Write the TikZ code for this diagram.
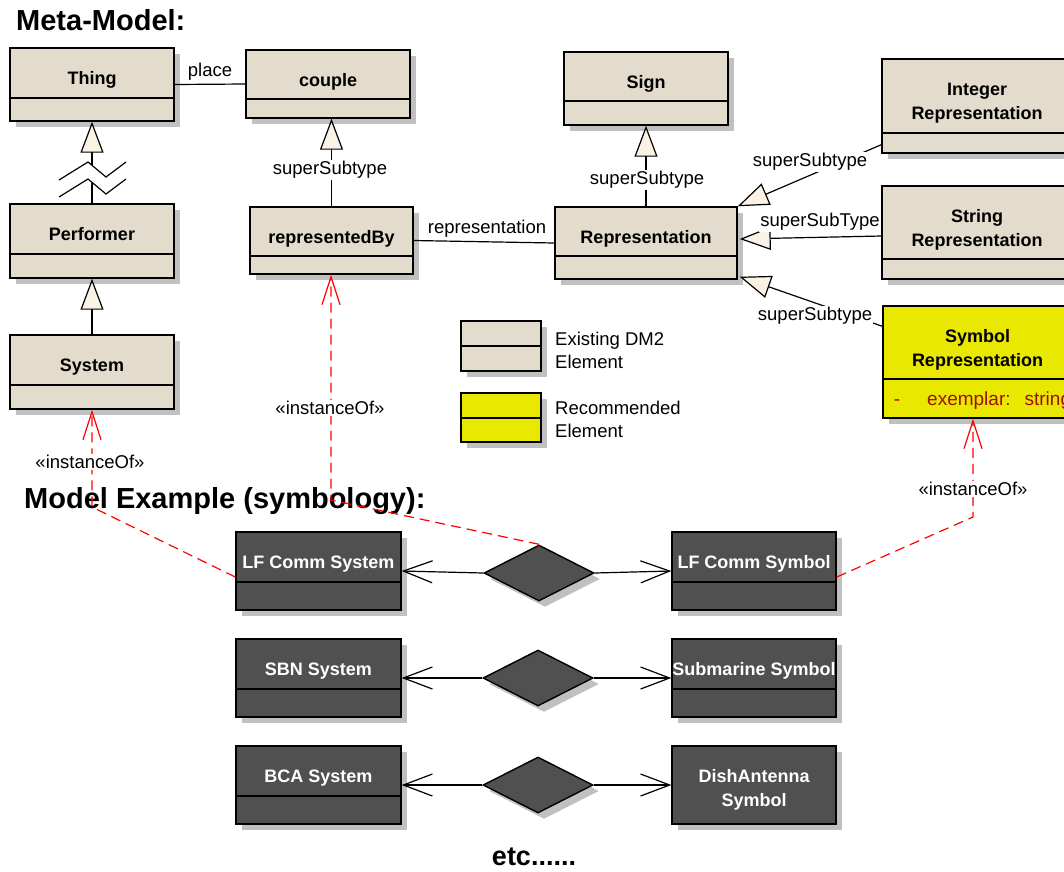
\documentclass[tikz,border=0pt]{standalone}
\usepackage{fontspec}
\setmainfont{Liberation Sans}
\usetikzlibrary{arrows.meta,shapes.geometric,shadows}

\definecolor{tanfill}{RGB}{227,219,203}
\definecolor{yelfill}{RGB}{232,232,0}
\definecolor{darkfill}{RGB}{80,80,80}
\definecolor{shadowc}{RGB}{192,192,192}
\definecolor{trifill}{RGB}{250,242,228}
\definecolor{attrred}{RGB}{160,16,0}

% strut so every class name has the same height and depth
\newcommand\tstrut{\vphantom{Ag}}

% class box: name, style, left, top, right, bottom, divider y, title
\newcommand\umlbox[8]{%
  \node[#2, minimum width={#5-#3}, minimum height={#6-#4}] (#1) at ({(#3+#5)/2},{(#4+#6)/2}) {};
  \draw[divider] (#3,#7) -- (#5,#7);
  \node[#2 txt] (#1-t) at ({(#3+#5)/2},{(#4+#7)/2+7}) {#8};
}

\tikzset{
  umlshape/.style={draw, line width=1.4pt, inner sep=0pt,
    general shadow={fill=shadowc, shadow xshift=6pt, shadow yshift=-6pt}},
  tanbox/.style={umlshape, fill=tanfill},
  yelbox/.style={umlshape, fill=yelfill},
  darkbox/.style={umlshape, fill=darkfill},
  nametxt/.style={font=\fontsize{18}{24}\selectfont\bfseries, align=center, inner sep=0pt,
    execute at begin node=\tstrut, execute at end node=\tstrut},
  tanbox txt/.style={nametxt},
  yelbox txt/.style={nametxt},
  darkbox txt/.style={nametxt, text=white},
  divider/.style={line width=1.4pt},
  assocd/.style={diamond, umlshape, fill=darkfill, minimum width=110, minimum height=56},
  lbl/.style={font=\fontsize{18.5}{24}\selectfont, inner sep=1pt, fill=white},
  plainline/.style={line width=1.2pt},
  gen/.style={plainline, -{Triangle[length=31pt, width=23pt, fill=trifill]}},
  assoc/.style={plainline, -{Straight Barb[length=29pt, width=22pt]}},
  instof/.style={plainline, red, dash pattern=on 10pt off 6pt, -{Straight Barb[length=28pt, width=18pt]}},
  heading/.style={font=\fontsize{29}{32}\selectfont\bfseries, inner sep=0pt},
}

\begin{document}
\begin{tikzpicture}[x=1pt, y=-1pt]
\useasboundingbox (0,0) rectangle (1064,871);
\clip (0,0) rectangle (1064,871);

% headings
\node[heading, anchor=base west] (hmeta) at (16,30) {Meta-Model:};
\node[heading, anchor=base west] (hmodel) at (24,508) {Model Example (symbology):};
\node[font=\fontsize{27}{30}\selectfont\bfseries, inner sep=0pt, anchor=base] (etc) at (534,865) {etc......};

% meta-model classes
\umlbox{thing}{tanbox}{10}{48}{174}{121}{98}{Thing}
\umlbox{couple}{tanbox}{246}{50}{410}{118}{99}{couple}
\umlbox{performer}{tanbox}{10}{204}{174}{278}{254}{Performer}
\umlbox{system}{tanbox}{10}{335}{174}{409}{385}{System}
\umlbox{repby}{tanbox}{250}{207}{413}{274}{256}{representedBy}
\umlbox{sign}{tanbox}{564}{52}{728}{125}{101}{Sign}
\umlbox{rep}{tanbox}{555}{207}{737}{279}{256}{Representation}
\umlbox{intrep}{tanbox}{882}{59}{1072}{153}{133}{Integer\\Representation}
\umlbox{strrep}{tanbox}{882}{186}{1072}{279}{259}{String\\Representation}
\umlbox{symrep}{yelbox}{883}{306}{1072}{418}{379}{Symbol\\Representation}
\node[font=\fontsize{19}{24}\selectfont, text=attrred, inner sep=0pt, anchor=base] (attrdash) at (897,405) {-};
\node[font=\fontsize{19}{24}\selectfont, text=attrred, inner sep=0pt, anchor=base west] (attr) at (927,405) {exemplar:\hspace{14pt}string};

% legend
\umlbox{legtan}{tanbox}{461}{321}{541}{371}{346}{}
\umlbox{legyel}{yelbox}{461}{393}{541}{442}{418}{}
\node[font=\fontsize{18.5}{23}\selectfont, align=left, inner sep=0pt, anchor=north west] (legtxta) at (555,332) {Existing DM2\\Element};
\node[font=\fontsize{18.5}{23}\selectfont, align=left, inner sep=0pt, anchor=north west] (legtxtb) at (555,401) {Recommended\\Element};

% model example classes
\umlbox{lfsys}{darkbox}{236}{532}{401}{610}{582}{LF Comm System}
\umlbox{lfsym}{darkbox}{672}{532}{836}{610}{582}{LF Comm Symbol}
\umlbox{sbnsys}{darkbox}{236}{639}{401}{717}{689}{SBN System}
\umlbox{subsym}{darkbox}{672}{639}{836}{717}{689}{Submarine Symbol}
\umlbox{bcasys}{darkbox}{236}{746}{401}{824}{796}{BCA System}
\node[darkbox, minimum width=164, minimum height=78] (dishsym) at (754,785) {};
\node[darkbox txt] (dishsym-t) at (754,790) {DishAntenna\\Symbol};

% association instances
\node[assocd] (d1) at (539,573) {};
\node[assocd] (d2) at (538,678) {};
\node[assocd] (d3) at (538,785) {};

% generalizations
\coordinate (zzhigh) at (92,165);
\coordinate (zzlow) at (92,183);
\draw[gen] (zzhigh) -- (thing.south);
\draw[plainline] (performer.north) -- (zzlow);
\draw[plainline] (59,180) -- (88,162) -- (106,177) -- (126,162);
\draw[plainline] (59,197) -- (88,179) -- (106,194) -- (126,179);
\draw[gen] (system.north) -- (performer.south);
\draw[gen] (repby.north) -- (repby.north |- couple.south);
\draw[gen] (rep.north) -- (sign.south);
\draw[gen] ([yshift=9pt]intrep.south west) -- (rep.north east);
\draw[gen] ([yshift=-3.5pt]strrep.west) -- ([xshift=2pt,yshift=4pt]rep.east);
\draw[gen] ([yshift=-21pt]symrep.north west) -- ([xshift=2pt,yshift=3pt]rep.south east);

% associations
\draw[plainline] (thing.east) -- (couple.west);
\draw[plainline] (repby.east) -- (rep.west);
\draw[assoc] (d1.west) -- (lfsys.east);
\draw[assoc] (d1.east) -- (lfsym.west);
\draw[assoc] (d2.west) -- (sbnsys.east);
\draw[assoc] (d2.east) -- (subsym.west);
\draw[assoc] (d3.west) -- (bcasys.east);
\draw[assoc] (d3.east) -- (dishsym.west);

% instance-of dependencies
\coordinate (k1) at (92,507);
\coordinate (k2) at (331,500);
\coordinate (k3) at (973,517);
\draw[instof] ([yshift=-6pt]lfsys.west) -- (k1) -- (k1 |- system.south);
\draw[instof] (d1.north) -- (k2) -- (k2 |- repby.south);
\draw[instof] ([yshift=-6pt]lfsym.east) -- (k3) -- (k3 |- symrep.south);

% connector labels
\node[lbl] (lplace) at (210,72) {place};
\node[lbl] (lss1) at (330,170) {superSubtype};
\node[lbl] (lss2) at (647,180) {superSubtype};
\node[lbl] (lss3) at (810,162) {superSubtype};
\node[lbl] (lss4) at (820,222) {superSubType};
\node[lbl] (lss5) at (815,316) {superSubtype};
\node[lbl] (lrepr) at (487,229) {representation};
\node[lbl] (lio1) at (90,462) {«instanceOf»};
\node[lbl] (lio2) at (330,408) {«instanceOf»};
\node[lbl] (lio3) at (973,489) {«instanceOf»};
\end{tikzpicture}
\end{document}
